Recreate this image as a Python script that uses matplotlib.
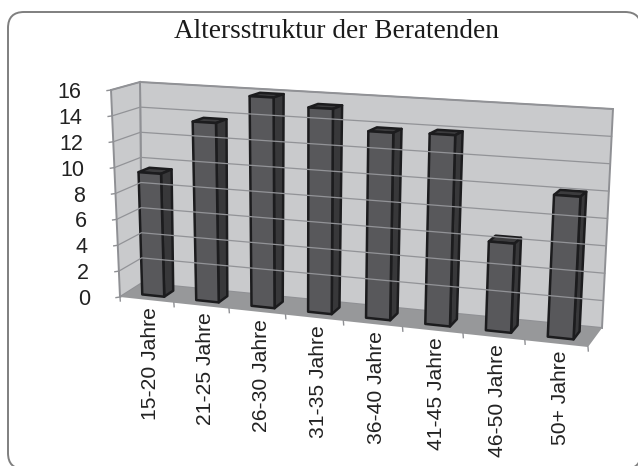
import numpy as np
import matplotlib
matplotlib.use('Agg')
import matplotlib.pyplot as plt
from matplotlib.patches import FancyBboxPatch, Polygon

categories = ['15-20 Jahre', '21-25 Jahre', '26-30 Jahre', '31-35 Jahre',
              '36-40 Jahre', '41-45 Jahre', '46-50 Jahre', '50+ Jahre']
values = [9.5, 13.7, 15.9, 15.3, 13.8, 13.9, 6.4, 10.1]
y_ticks = [0, 2, 4, 6, 8, 10, 12, 14, 16]
title = 'Altersstruktur der Beratenden'

# pixel corners of the fake 3D box: (front/back)(left/right)(bottom/top)
FLB = np.array([120, 297.])
FLT = np.array([111, 90.])
FRB = np.array([588, 347.])
FRT = np.array([600, 117.])
BLB = np.array([142, 283.])
BLT = np.array([140, 82.])
BRB = np.array([602, 328.])
BRT = np.array([613, 109.])
YMAX = 16.0
PERSP = 0.1  # categories get wider towards the right


def project(u, v, d):
    # u = category position 0-8, v = value, d = depth 0 (front) to 1 (back)
    a = u / len(categories)
    a = a * (1 + PERSP * a) / (1 + PERSP)
    b = v / YMAX
    front = (1-a)*(1-b)*FLB + a*(1-b)*FRB + (1-a)*b*FLT + a*b*FRT
    back = (1-a)*(1-b)*BLB + a*(1-b)*BRB + (1-a)*b*BLT + a*b*BRT
    return tuple((1-d)*front + d*back)


fig = plt.figure(figsize=(6.38, 4.66), dpi=100)
ax = fig.add_axes([0, 0, 1, 1])
ax.set_xlim(0, 638)
ax.set_ylim(466, 0)
ax.axis('off')

# rounded frame, runs off the right and bottom of the picture
ax.add_patch(FancyBboxPatch((8, 12), 633, 457,
                            boxstyle='round,pad=0,rounding_size=16',
                            fc='white', ec='#7f7f7f', lw=1.4))

ax.text(336, 32, title, family='Liberation Serif', fontsize=19.6, ha='center',
        va='center', color='#1a1a1a')

n = len(categories)
edge = '#8f9094'
# walls and floor
ax.add_patch(Polygon([project(0, 0, 1), project(n, 0, 1), project(n, YMAX, 1), project(0, YMAX, 1)],
                     fc='#c9cacc', ec=edge, lw=1.4))
ax.add_patch(Polygon([project(0, 0, 0), project(0, 0, 1), project(0, YMAX, 1), project(0, YMAX, 0)],
                     fc='#c9cacc', ec=edge, lw=1.4))
ax.add_patch(Polygon([project(0, 0, 0), project(n, 0, 0), project(n, 0, 1), project(0, 0, 1)],
                     fc='#97989a', ec='none'))

# gridlines, ticks and y labels
for t in y_ticks:
    if t > 0:
        pts = [project(0, t, 0), project(0, t, 1), project(n, t, 1)]
        ax.plot(*zip(*pts), color='#929397', lw=0.9)
    x0, y0 = project(0, t, 0)
    ax.plot([x0 - 4, x0], [y0 + 0.6, y0], color=edge, lw=1.0)
    ax.text(x0 - 30, y0 + 2.5, str(t), family='Liberation Sans', fontsize=15.5,
            ha='right', va='center', color='#222222')

# x ticks and labels
for i, lab in enumerate(categories):
    x0, y0 = project(i, 0, 0)
    ax.plot([x0, x0 + 0.3], [y0, y0 + 4], color=edge, lw=1.0)
    xc, yc = project(i + 0.5, 0, 0)
    ax.text(xc + 4, yc + 7, lab, family='Liberation Sans', fontsize=15.2, rotation=90,
            ha='center', va='top', color='#222222')
x0, y0 = project(n, 0, 0)
ax.plot([x0, x0 + 0.3], [y0, y0 + 4], color=edge, lw=1.0)

# bars
bw = 0.205
d0, d1 = 0.3, 0.72
for i, val in enumerate(values):
    u0, u1 = i + 0.5 - bw, i + 0.5 + bw
    top = Polygon([project(u0, val, d0), project(u1, val, d0), project(u1, val, d1), project(u0, val, d1)],
                  fc='#3c3c3e', ec='#1c1c1e', lw=1.8, joinstyle='round')
    side = Polygon([project(u1, 0, d0), project(u1, 0, d1), project(u1, val, d1), project(u1, val, d0)],
                   fc='#38383a', ec='#1c1c1e', lw=1.8, joinstyle='round')
    front = Polygon([project(u0, 0, d0), project(u1, 0, d0), project(u1, val, d0), project(u0, val, d0)],
                    fc='#58585b', ec='#1c1c1e', lw=1.8, joinstyle='round')
    ax.add_patch(top)
    ax.add_patch(side)
    ax.add_patch(front)

fig.savefig('out.png', dpi=100)
